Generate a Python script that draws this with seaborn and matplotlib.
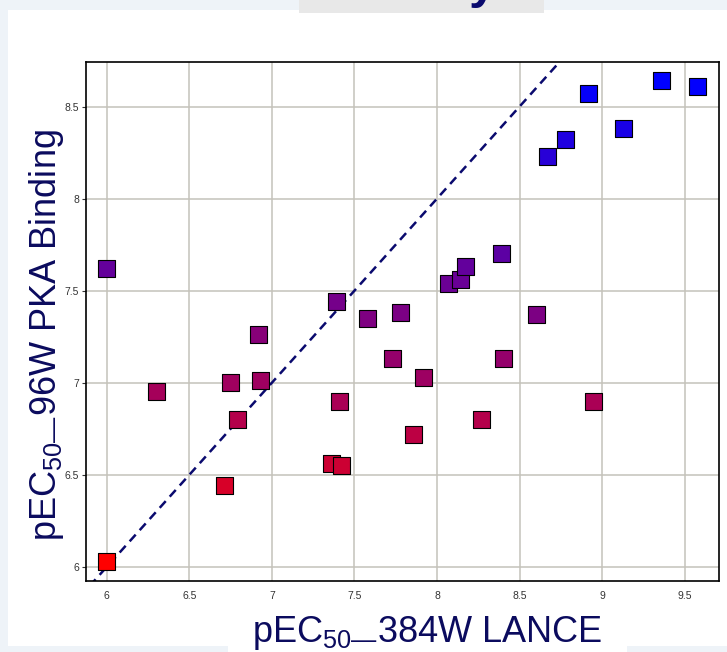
import matplotlib
matplotlib.use("Agg")
import matplotlib.pyplot as plt
from matplotlib.colors import LinearSegmentedColormap
from matplotlib.patches import Rectangle
import seaborn as sns
import pandas as pd

# ---- data ----
lance_384w = [6.00, 6.00, 6.30, 6.75, 6.71, 6.92, 6.93, 6.79, 7.39, 7.41, 7.36, 7.42,
              7.58, 7.78, 7.73, 7.92, 7.86, 8.07, 8.14, 8.17, 8.39, 8.27, 8.40, 8.60,
              8.95, 8.67, 8.78, 8.92, 9.13, 9.36, 9.58]
pka_96w = [7.62, 6.03, 6.95, 7.00, 6.44, 7.26, 7.01, 6.80, 7.44, 6.90, 6.56, 6.55,
           7.35, 7.38, 7.13, 7.03, 6.72, 7.54, 7.56, 7.63, 7.70, 6.80, 7.13, 7.37,
           6.90, 8.23, 8.32, 8.57, 8.38, 8.64, 8.61]
x_ticks = [6, 6.5, 7, 7.5, 8, 8.5, 9, 9.5]
y_ticks = [6, 6.5, 7, 7.5, 8, 8.5]
x_tick_labels = ["6", "6.5", "7", "7.5", "8", "8.5", "9", "9.5"]
y_tick_labels = ["6", "6.5", "7", "7.5", "8", "8.5"]

df = pd.DataFrame({"x": lance_384w, "y": pka_96w})

sns.set_theme(style="white")
plt.rcParams["font.family"] = ["Liberation Sans", "DejaVu Sans"]
plt.rcParams["mathtext.fontset"] = "custom"
plt.rcParams["mathtext.rm"] = "Liberation Sans"

navy = "#0b0b5e"
fig = plt.figure(figsize=(7.27, 6.52), dpi=100, facecolor="#eef3f8")
W, H = 727.0, 652.0

# page background panels
fig.patches.append(Rectangle((8 / W, 6 / H), 1 - 8 / W, (652 - 10 - 6) / H,
                             transform=fig.transFigure, facecolor="white",
                             edgecolor="none", zorder=-10))
fig.patches.append(Rectangle((228 / W, 0), (627 - 228) / W, 8 / H,
                             transform=fig.transFigure, facecolor="white",
                             edgecolor="none", zorder=-10))
fig.patches.append(Rectangle((299 / W, 1 - 13 / H), (544 - 299) / W, 13 / H,
                             transform=fig.transFigure, facecolor="#e8e8e8",
                             edgecolor="none", zorder=-9))
fig.text(400 / W, 1 + 2 / H, "Potency", ha="center", va="baseline",
         fontsize=36, fontweight="bold", color="#0a0a6e")

ax = fig.add_axes([86 / W, (652 - 581) / H, 633 / W, 519 / H])
ax.set_facecolor("white")

cmap = LinearSegmentedColormap.from_list("rb", ["#ff0000", "#0000ff"])
sns.scatterplot(data=df, x="x", y="y", hue="y", palette=cmap,
                hue_norm=(min(pka_96w), max(pka_96w)), marker="s", s=150,
                edgecolor="black", linewidth=0.8, legend=False, ax=ax, zorder=3)

ax.set_xlim(5.874, 9.708)
ax.set_ylim(5.923, 8.742)
ax.plot([5.5, 10], [5.5, 10], linestyle=(0, (3.6, 2.4)), color="#0a0a6e",
        linewidth=1.8, zorder=2)

ax.set_xticks(x_ticks)
ax.set_xticklabels(x_tick_labels)
ax.set_yticks(y_ticks)
ax.set_yticklabels(y_tick_labels)
ax.tick_params(axis="x", length=0, pad=7, labelsize=7.5, labelcolor="#333333")
ax.tick_params(axis="y", length=3, width=0.8, color="#333333", pad=2,
               labelsize=7.5, labelcolor="#333333", left=True)
ax.grid(True, color="#c4c2ba", linewidth=1.1, zorder=0)
ax.set_axisbelow(True)
for sp in ax.spines.values():
    sp.set_color("black")
    sp.set_linewidth(1.2)

ax.set_xlabel(r"pEC$_\mathregular{50—}$384W LANCE", fontsize=26, color=navy)
ax.set_ylabel(r"pEC$_\mathregular{50—}$96W PKA Binding", fontsize=26, color=navy)
ax.xaxis.set_label_coords((427 - 86) / 633, (581 - 614) / 519)
ax.yaxis.set_label_coords((66 - 86) / 633, (581 - 335) / 519)

fig.savefig("out.png", dpi=100, facecolor=fig.get_facecolor())
